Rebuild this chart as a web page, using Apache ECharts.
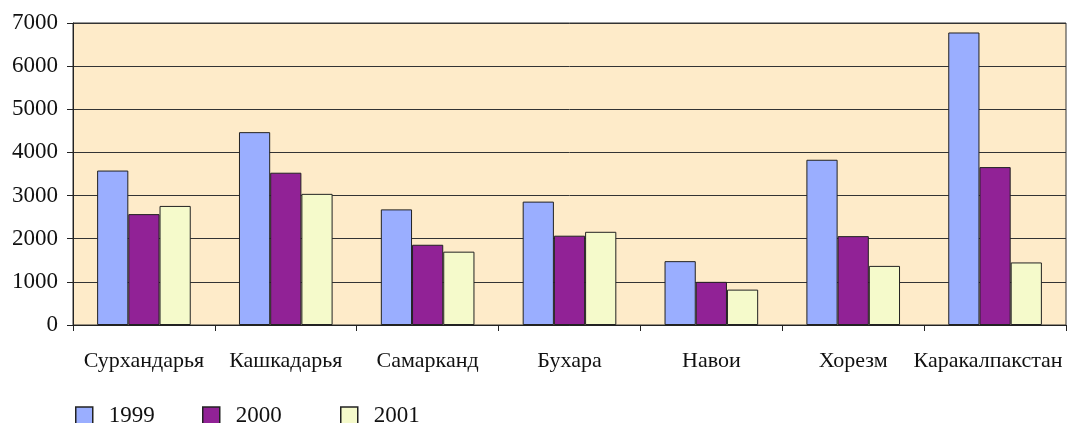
<!DOCTYPE html>
<html>
<head>
<meta charset="utf-8">
<script src="https://cdn.jsdelivr.net/npm/echarts@6/dist/echarts.min.js"></script>
<style>
  html, body { margin: 0; padding: 0; background: #fff; }
  #main { width: 1067px; height: 423px; }
</style>
</head>
<body>
<div id="main"></div>
<script>
var regions = ['Сурхандарья', 'Кашкадарья', 'Самарканд', 'Бухара', 'Навои', 'Хорезм', 'Каракалпакстан'];
var years = ['1999', '2000', '2001'];
var values1999 = [3580, 4470, 2680, 2860, 1480, 3830, 6780];
var values2000 = [2570, 3530, 1860, 2070, 1000, 2060, 3660];
var values2001 = [2760, 3040, 1700, 2160, 820, 1370, 1450];
var yTicks = [0, 1000, 2000, 3000, 4000, 5000, 6000, 7000];

var colors = ['#9aaeff', '#912296', '#f5facb'];
var fontFamily = '"Liberation Serif", "DejaVu Serif", serif';

var myChart = echarts.init(document.getElementById('main'));

var makeSeries = function(name, data, color) {
    return {
        name: name,
        type: 'bar',
        data: data,
        barGap: '0%',
        barCategoryGap: '34%',
        itemStyle: {
            color: color,
            borderColor: '#222',
            borderWidth: 1
        }
    };
};

var makeLegend = function(name, left) {
    return {
        data: [name],
        left: left,
        top: 404,
        padding: 0,
        itemWidth: 17,
        itemHeight: 17,
        itemGap: 16,
        textStyle: { fontFamily: fontFamily, fontSize: 23, color: '#111', padding: [0, 0, 0, 11] },
        itemStyle: { borderColor: '#222', borderWidth: 1.5 },
        icon: 'rect'
    };
};

// the last label sits a little left of its category centre, as in the source
var categoryData = regions.map(function(name, i) {
    if (i === regions.length - 1) {
        return { value: name, textStyle: { padding: [0, 14, 0, 0] } };
    }
    return name;
});

var option = {
    animation: false,
    backgroundColor: '#fff',
    grid: {
        left: 73,
        right: 1,
        top: 23,
        bottom: 98,
        outerBoundsMode: 'none',
        containLabel: false,
        show: true,
        backgroundColor: '#feebc9',
        borderColor: '#333',
        borderWidth: 1
    },
    legend: [
        makeLegend(years[0], 75),
        makeLegend(years[1], 202),
        makeLegend(years[2], 340)
    ],
    xAxis: {
        type: 'category',
        data: categoryData,
        axisLine: { lineStyle: { color: '#222', width: 1 } },
        axisTick: { show: true, length: 6, lineStyle: { color: '#222' } },
        axisLabel: { interval: 0, fontFamily: fontFamily, fontSize: 22, color: '#111', margin: 25 }
    },
    yAxis: {
        type: 'value',
        min: yTicks[0],
        max: yTicks[yTicks.length - 1],
        interval: 1000,
        axisLine: { show: true, lineStyle: { color: '#222', width: 1 } },
        axisTick: { show: true, length: 6, lineStyle: { color: '#222' } },
        axisLabel: {
            fontFamily: fontFamily, fontSize: 23, color: '#111', margin: 15,
            formatter: function(v) { return String(v); }
        },
        splitLine: { show: true, lineStyle: { color: '#333', width: 1 } }
    },
    series: [
        makeSeries(years[0], values1999, colors[0]),
        makeSeries(years[1], values2000, colors[1]),
        makeSeries(years[2], values2001, colors[2])
    ]
};

myChart.setOption(option);
</script>
</body>
</html>
